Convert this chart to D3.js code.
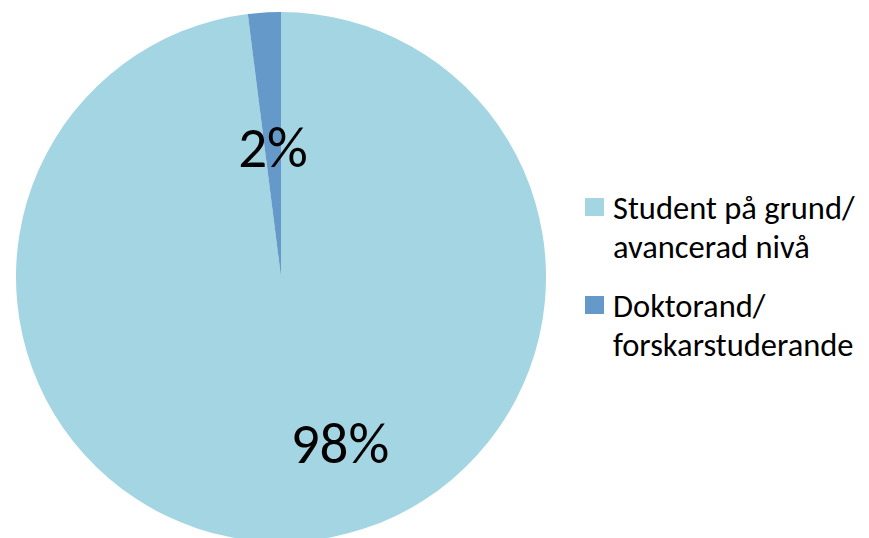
<!DOCTYPE html>
<html>
<head>
<meta charset="utf-8">
<script src="https://cdn.jsdelivr.net/npm/d3@7"></script>
<style>
  html, body { margin: 0; padding: 0; background: #fff; }
  svg { display: block; }
  text { font-family: Carlito, Calibri, Lato, "Noto Sans", sans-serif; fill: #000; }
</style>
</head>
<body>
<svg id="chart" width="869" height="538"></svg>
<script>
const categories = ["Student på grund/ avancerad nivå", "Doktorand/ forskarstuderande"];
const legendLines = [["Student på grund/", "avancerad nivå"], ["Doktorand/", "forskarstuderande"]];
const values = [98, 2];
const labels = ["98%", "2%"];
const colors = ["#A3D5E3", "#6599CA"];

const svg = d3.select("#chart");
const cx = 281, cy = 277, r = 265;

const pie = d3.pie().sort(null).value(d => d.value);
const arcs = pie(categories.map((c, i) => ({ cat: c, value: values[i], label: labels[i], color: colors[i] })));
const arc = d3.arc().innerRadius(0).outerRadius(r);

const g = svg.append("g").attr("transform", `translate(${cx},${cy})`);
g.selectAll("path").data(arcs).enter().append("path")
  .attr("d", arc)
  .attr("fill", d => d.data.color);

// data labels
const labelPos = [[59, 186], [-8, -110]];
g.selectAll("text.lbl").data(arcs).enter().append("text")
  .attr("class", "lbl")
  .attr("x", (d, i) => labelPos[i][0])
  .attr("y", (d, i) => labelPos[i][1])
  .attr("text-anchor", "middle")
  .style("font-size", "57px")
  .text(d => d.data.label);

// legend
const lg = svg.append("g").attr("transform", "translate(585,0)");
const legendY = [198, 296];
legendLines.forEach((lines, i) => {
  lg.append("rect").attr("x", 0).attr("y", legendY[i]).attr("width", 19).attr("height", 18).attr("fill", colors[i]);
  const t = lg.append("text").attr("x", 28).attr("y", legendY[i] + 21).style("font-size", "32.5px");
  lines.forEach((ln, j) => {
    t.append("tspan").attr("x", 28).attr("dy", j === 0 ? 0 : 39).text(ln);
  });
});
</script>
</body>
</html>
